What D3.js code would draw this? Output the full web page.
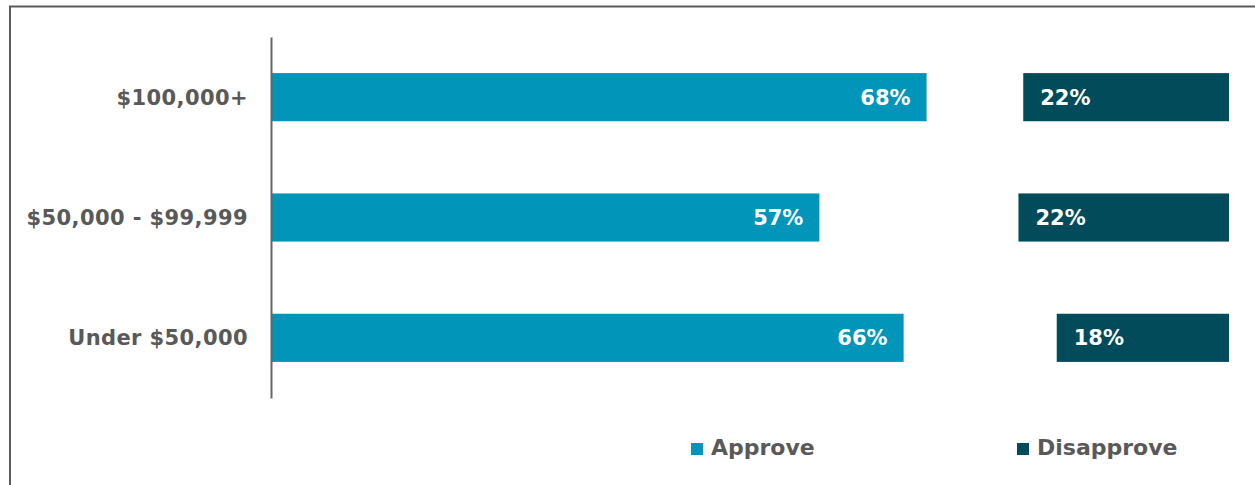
<!DOCTYPE html>
<html>
<head>
<meta charset="utf-8">
<script src="https://cdn.jsdelivr.net/npm/d3@7"></script>
<style>
  html, body { margin: 0; padding: 0; background: #fff; }
  svg { display: block; }
</style>
</head>
<body>
<div id="chart"></div>
<script>
// income groups, top to bottom
const categories = ["$100,000+", "$50,000 - $99,999", "Under $50,000"];
// share of respondents (%)
const approve = [68.4, 57.2, 66.0];
const disapprove = [21.5, 22.0, 18.0];
const seriesNames = ["Approve", "Disapprove"];
const seriesColors = ["#0095b9", "#024b5a"];

const width = 1255;
const height = 485;
const textGray = "#595959";
const font = "'DejaVu Sans', sans-serif";

const svg = d3.select("#chart").append("svg")
    .attr("width", width)
    .attr("height", height);

// outer frame (runs off the right and bottom of the crop)
svg.append("rect")
    .attr("x", 10)
    .attr("y", 6.5)
    .attr("width", width + 20)
    .attr("height", height + 20)
    .attr("fill", "none")
    .attr("stroke", "#5a5a5a")
    .attr("stroke-width", 2);

const x = d3.scaleLinear()
    .domain([0, 100])
    .range([272, 1229]);

const y = d3.scaleBand()
    .domain(categories)
    .range([37, 398])
    .paddingInner(0.6)
    .paddingOuter(0.3);

const rows = categories.map((c, i) => ({cat: c, approve: approve[i], disapprove: disapprove[i]}));

// approve bars grow from the axis
svg.append("g")
  .selectAll("rect")
  .data(rows)
  .join("rect")
    .attr("x", x(0))
    .attr("y", d => y(d.cat))
    .attr("width", d => x(d.approve) - x(0))
    .attr("height", y.bandwidth())
    .attr("fill", seriesColors[0]);

// disapprove bars sit at the far end (stacked to 100)
svg.append("g")
  .selectAll("rect")
  .data(rows)
  .join("rect")
    .attr("x", d => x(100 - d.disapprove))
    .attr("y", d => y(d.cat))
    .attr("width", d => x(100) - x(100 - d.disapprove))
    .attr("height", y.bandwidth())
    .attr("fill", seriesColors[1]);

// value labels
const labels = svg.append("g")
    .style("font", `bold 21px ${font}`)
    .attr("fill", "#fff");

labels.selectAll("text.a")
  .data(rows)
  .join("text")
    .attr("class", "a")
    .attr("x", d => x(d.approve) - 16)
    .attr("y", d => y(d.cat) + y.bandwidth() / 2)
    .attr("dy", "0.36em")
    .attr("text-anchor", "end")
    .text(d => Math.round(d.approve) + "%");

labels.selectAll("text.d")
  .data(rows)
  .join("text")
    .attr("class", "d")
    .attr("x", d => x(100 - d.disapprove) + 17)
    .attr("y", d => y(d.cat) + y.bandwidth() / 2)
    .attr("dy", "0.36em")
    .text(d => Math.round(d.disapprove) + "%");

// category axis
const yAxis = d3.axisLeft(y).tickSize(0).tickPadding(23);
svg.append("g")
    .attr("transform", `translate(${x(0) - 1},0)`)
    .call(yAxis)
    .call(g => g.select(".domain").attr("stroke", "#666").attr("stroke-width", 2))
    .call(g => g.selectAll(".tick text")
        .attr("fill", textGray)
        .attr("dy", "0.36em")
        .style("letter-spacing", "0.4px")
        .style("font", `bold 21px ${font}`));

// legend
const legendX = [691, 1017];
const legend = svg.append("g")
  .selectAll("g")
  .data(seriesNames)
  .join("g")
    .attr("transform", (d, i) => `translate(${legendX[i]},443)`);

legend.append("rect")
    .attr("width", 12)
    .attr("height", 12)
    .attr("fill", (d, i) => seriesColors[i]);

legend.append("text")
    .attr("x", 20)
    .attr("y", 12)
    .attr("fill", textGray)
    .style("font", `bold 22px ${font}`)
    .text(d => d);
</script>
</body>
</html>
